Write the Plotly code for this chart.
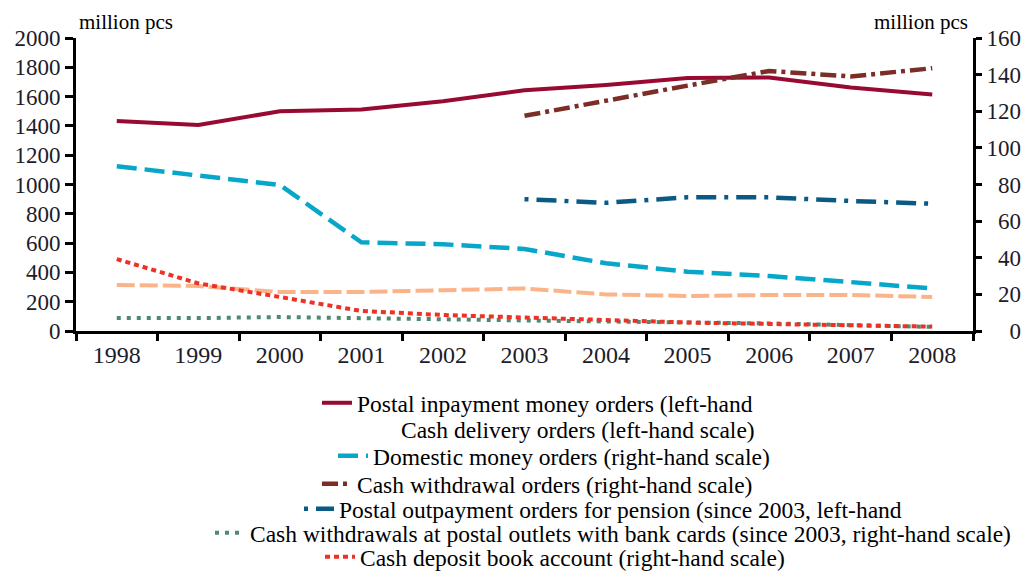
import plotly.graph_objects as go

years = ["1998", "1999", "2000", "2001", "2002", "2003", "2004", "2005", "2006", "2007", "2008"]

inpayment = [1433, 1406, 1500, 1512, 1568, 1643, 1680, 1727, 1730, 1662, 1615]
domestic = [1125, 1060, 997, 605, 592, 560, 462, 405, 375, 334, 290]
cash_delivery = [314, 307, 266, 266, 278, 290, 250, 239, 246, 246, 232]
deposit_book = [491, 325, 232, 137, 109, 90, 72, 58, 48, 36, 30]
bank_cards = [88, 88, 95, 90, 80, 72, 62, 58, 52, 38, 28]
withdrawal_orders = [None, None, None, None, None, 117.5, 126, 134, 142, 139, 143.5]
pension = [None, None, None, None, None, 72, 70, 73, 73, 71, 69.5]

left_ticks = list(range(0, 2001, 200))
right_ticks = list(range(0, 161, 20))

names = {
    "inpayment": "Postal inpayment money orders (left-hand",
    "cash_delivery": "Cash delivery orders (left-hand scale)",
    "domestic": "Domestic money orders (right-hand scale)",
    "withdrawal": "Cash withdrawal orders (right-hand scale)",
    "pension": "Postal outpayment orders for pension (since 2003, left-hand",
    "cards": "Cash withdrawals at postal outlets with bank cards (since 2003, right-hand scale)",
    "deposit": "Cash deposit book account (right-hand scale)",
}

FONT = '"Liberation Serif", "Times New Roman", Times, serif'
OFF = 8  # page body margin of the browser
W, H = 1033 - OFF, 572 - OFF
L, T = 76 - OFF, 38 - OFF
R = W - (973 - OFF)
B = H - (331 - OFF)
PW = W - L - R
PH = H - T - B


def lx(px):
    return (px - OFF - L) / PW


def ly(py):
    return (H - B - (py - OFF)) / PH


fig = go.Figure()

fig.add_trace(go.Scatter(x=years, y=cash_delivery, mode="lines", showlegend=False,
                         line=dict(color="#fbb48a", width=4, dash="18px,5px")))
fig.add_trace(go.Scatter(x=years, y=bank_cards, mode="lines", name=names["cards"], legend="legend5",
                         line=dict(color="#4e8a72", width=4, dash="4px,6px")))
fig.add_trace(go.Scatter(x=years, y=deposit_book, mode="lines", name=names["deposit"], legend="legend6",
                         line=dict(color="#ee3124", width=4, dash="5px,4px")))
fig.add_trace(go.Scatter(x=years, y=domestic, mode="lines", name=names["domestic"], legend="legend2",
                         line=dict(color="#06a7c9", width=4.5, dash="20px,8px")))
fig.add_trace(go.Scatter(x=years, y=inpayment, mode="lines", name=names["inpayment"], legend="legend",
                         line=dict(color="#990a33", width=4)))
fig.add_trace(go.Scatter(x=years, y=withdrawal_orders, mode="lines", name=names["withdrawal"], legend="legend3",
                         yaxis="y2", line=dict(color="#7b2d26", width=4.5, dash="16px,5px,4px,5px")))
fig.add_trace(go.Scatter(x=years, y=pension, mode="lines", name=names["pension"], legend="legend4",
                         yaxis="y2", line=dict(color="#0b5a83", width=4.5, dash="4px,8px,20px,8px")))

# legend rows: (legend id, text start px, center y px)
rows = [("legend", 357, 403), ("legend2", 373, 456), ("legend3", 357, 484),
        ("legend4", 339, 509), ("legend5", 250, 533), ("legend6", 360, 557)]
LEG_SHIFT = 40
LEG_SIZE = 23.5
leg_layout = {}
for lid, tx, cy in rows:
    leg_layout[lid] = dict(x=lx(tx - LEG_SHIFT), xanchor="left", y=ly(cy), yanchor="middle",
                           font=dict(family=FONT, size=LEG_SIZE, color="#000000"),
                           bgcolor="rgba(0,0,0,0)", borderwidth=0, itemwidth=30,
                           tracegroupgap=0)

TICK_FONT = dict(size=23, family=FONT, color="#1c1c2a")

fig.update_layout(
    width=W, height=H,
    margin=dict(l=L, r=R, t=T, b=B, autoexpand=False),
    paper_bgcolor="white", plot_bgcolor="white",
    font=dict(family=FONT, color="#1c1c2a"),
    xaxis=dict(type="category", range=[-0.5, 10.5], tickson="boundaries", ticks="outside",
               ticklen=7, tickwidth=3, tickcolor="black", showline=True, linewidth=3, linecolor="black",
               showgrid=False, zeroline=False, tickfont=dict(size=24, family=FONT, color="#1c1c2a")),
    yaxis=dict(range=[0, 2000], tickvals=left_ticks, ticks="outside", ticklen=8, tickwidth=3,
               tickcolor="black", showline=True, linewidth=3, linecolor="black", showgrid=False,
               zeroline=False, tickfont=TICK_FONT),
    yaxis2=dict(range=[0, 160], tickvals=right_ticks,
                ticktext=[f"{v:>3}".replace(" ", "\u2007") for v in right_ticks],
                overlaying="y", side="right", ticks="outside", ticklen=6, tickwidth=3,
                tickcolor="black", showline=True, linewidth=3, linecolor="black", showgrid=False,
                zeroline=False, tickfont=TICK_FONT),
    **leg_layout,
    annotations=[
        dict(text="million pcs", xref="paper", yref="paper", x=lx(77), y=ly(22), xanchor="left",
             yanchor="middle", showarrow=False, font=dict(family=FONT, size=21, color="black")),
        dict(text="million pcs", xref="paper", yref="paper", x=lx(970), y=ly(22), xanchor="right",
             yanchor="middle", showarrow=False, font=dict(family=FONT, size=21, color="black")),
        dict(text=names["cash_delivery"], xref="paper", yref="paper", x=lx(399), y=ly(430),
             xanchor="left", yanchor="middle", showarrow=False,
             font=dict(family=FONT, size=LEG_SIZE, color="black")),
    ],
)

fig.write_html("out.html")
